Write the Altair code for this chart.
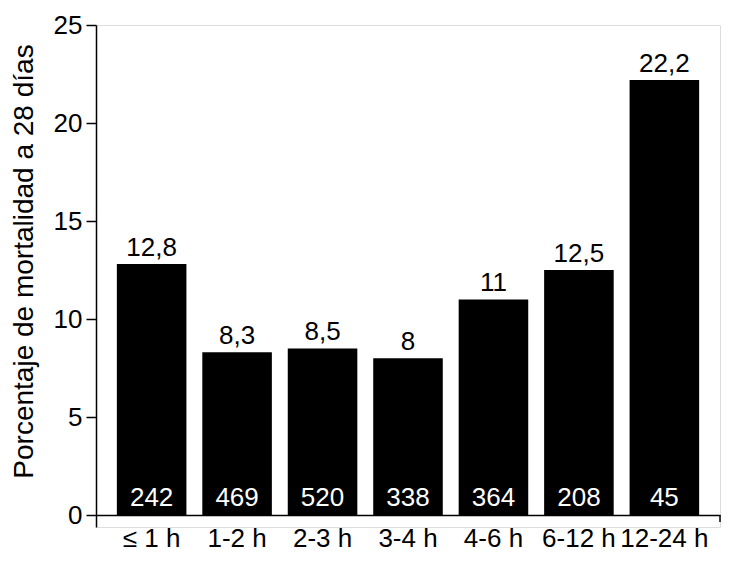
import altair as alt
import pandas as pd

categories = ["≤ 1 h", "1-2 h", "2-3 h", "3-4 h", "4-6 h", "6-12 h", "12-24 h"]
mortality = [12.8, 8.3, 8.5, 8.0, 11.0, 12.5, 22.2]
mortality_labels = ["12,8", "8,3", "8,5", "8", "11", "12,5", "22,2"]
counts = ["242", "469", "520", "338", "364", "208", "45"]
y_ticks = [0, 5, 10, 15, 20, 25]

df = pd.DataFrame({
    "cat": categories,
    "val": mortality,
    "lab": mortality_labels,
    "n": counts,
    "zero": [0] * len(categories),
})

FONT = "Liberation Sans, Arial, sans-serif"
W, H = 624, 502

x = alt.X(
    "cat:N",
    sort=categories,
    scale=alt.Scale(paddingInner=0.186, paddingOuter=0.244),
    axis=alt.Axis(
        title=None, labelAngle=0, ticks=False, offset=-12,
        domainColor="black", domainWidth=1.5,
        labelFont=FONT, labelFontSize=26, labelColor="black",
        labelPadding=10, labelBaseline="top",
    ),
)
y = alt.Y(
    "val:Q",
    scale=alt.Scale(domain=[-0.612, 25], nice=False, zero=False),
    axis=alt.Axis(
        title="Porcentaje de mortalidad a 28 días", values=y_ticks, grid=False,
        domainColor="black", domainWidth=1.5, tickColor="black", tickWidth=1.5, tickSize=10,
        labelFont=FONT, labelFontSize=26, labelColor="black", labelPadding=4,
        titleFont=FONT, titleFontSize=28, titleFontWeight="normal", titleColor="black",
        titleX=-64, titleY=236, titleBaseline="alphabetic", titleAngle=270,
    ),
)

base = alt.Chart(df)

bars = base.mark_bar(color="black").encode(x=x, y=y, y2="zero:Q")

top_labels = base.mark_text(
    font=FONT, fontSize=26, color="black", baseline="alphabetic", dy=-8
).encode(x=alt.X("cat:N", sort=categories), y="val:Q", text="lab:N")

count_labels = base.mark_text(
    font=FONT, fontSize=26, color="white", baseline="alphabetic", dy=-9
).encode(x=alt.X("cat:N", sort=categories), y="zero:Q", text="n:N")

end_tick = alt.Chart(pd.DataFrame({"a": [0]})).mark_rule(color="black", strokeWidth=1.5).encode(
    x=alt.value(W), y=alt.value(H - 12), y2=alt.value(H - 5)
)

chart = alt.layer(bars, top_labels, count_labels, end_tick).properties(
    width=W, height=H,
    autosize=alt.AutoSizeParams(type="none"),
    padding={"left": 88, "top": 17, "right": 2, "bottom": 24},
).configure_view(stroke=None).configure(background="white")

chart.save("out.html", embed_options={"renderer": "svg", "actions": False})
